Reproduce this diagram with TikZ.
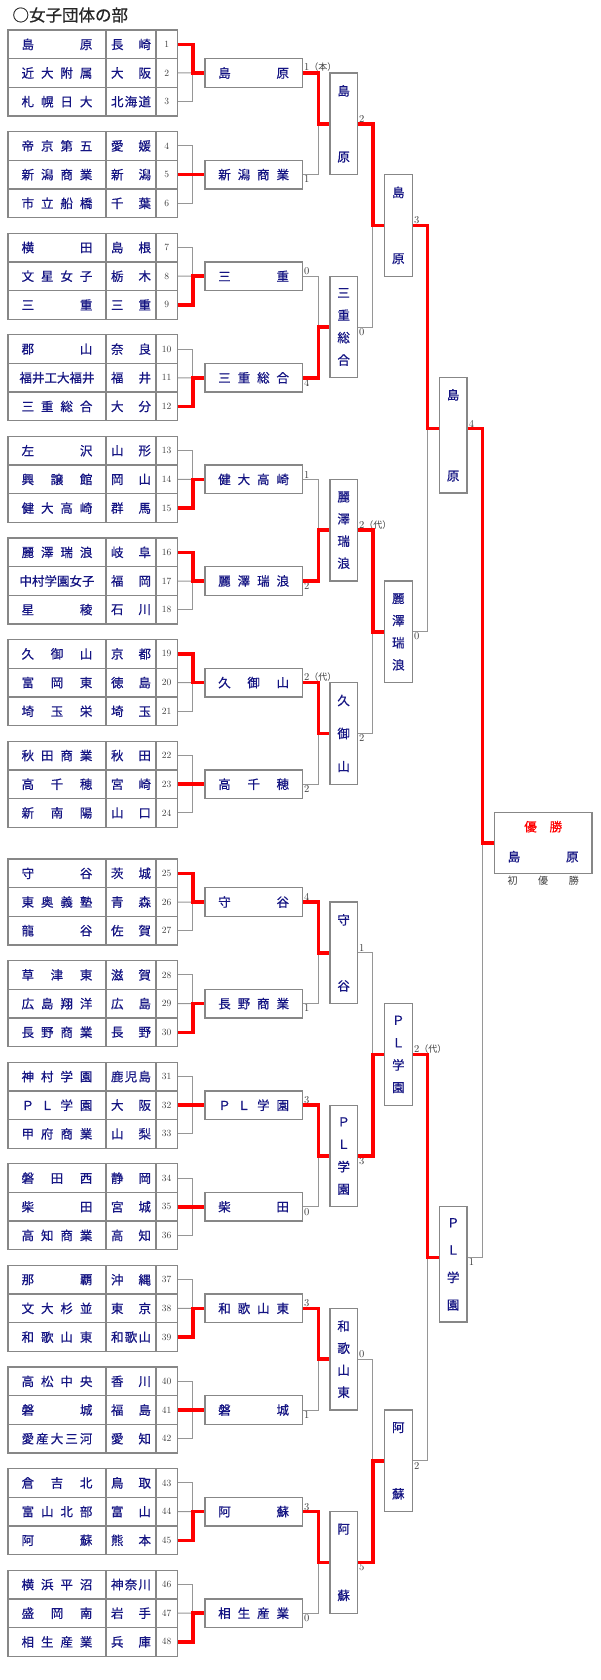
\documentclass[tikz,border=0pt]{standalone}
\usepackage{fontspec}
\usepackage{tikz}
\newfontfamily\jp{Noto Sans CJK JP}
\newfontfamily\jpb[FakeBold=0.6]{Noto Sans CJK JP}
\definecolor{navy}{RGB}{20,20,130}
\definecolor{frame}{RGB}{135,135,135}
\definecolor{lgray}{RGB}{150,150,150}
\definecolor{numgray}{RGB}{60,60,60}

\makeatletter
\def\spr@h#1#2{#1\ifx\relax#2\expandafter\@gobble\else\hfill\expandafter\@firstofone\fi{\spr@h#2}}
\def\spr@v#1#2{\hbox to 0pt{\hss#1\hss}\ifx\relax#2\expandafter\@gobble\else\vfill\expandafter\@firstofone\fi{\spr@v#2}}
\newcommand\hspr[2]{\makebox[#1][s]{\expandafter\spr@h#2\relax}}
\newcommand\vspr[2]{\vbox to #1{\expandafter\spr@v#2\relax}}
\makeatother
\newlength\tmw
\newcommand\tname[1]{\settowidth\tmw{#1}\ifdim\tmw>70.8pt #1\else\hspr{70.8pt}{#1}\fi}

\begin{document}
\begin{tikzpicture}[x=1pt, y=-1pt,
  jpfont/.style={font=\jpb\fontsize{12.5}{14}\selectfont},
  cell/.style={draw=frame, line width=1.3pt, minimum height=28.67pt, inner sep=0pt},
  team/.style={cell, jpfont, text=navy, minimum width=98pt},
  pref/.style={cell, jpfont, text=navy, minimum width=50pt},
  num/.style={cell, text=numgray, minimum width=21.3pt, font=\fontsize{9.5}{11}\selectfont},
  winbox/.style={cell, jpfont, text=navy, minimum width=97.3pt},
  colbox/.style={draw=frame, line width=1.3pt, inner sep=0pt, jpfont, text=navy, minimum height=101.6pt},
  score/.style={inner sep=1pt, text=numgray, font=\fontsize{10.5}{12}\selectfont},
  gline/.style={draw=lgray, line width=1pt},
  rline/.style={draw=red, line width=3.5pt}]
\useasboundingbox (0,0) rectangle (600,1680);
\node[anchor=west, text=black!85, font=\jpb\fontsize{16.5}{18}\selectfont] (title) at (9,15) {○女子団体の部};

% entry table
\foreach \n/\tm/\pf in {1/島原/長崎, 2/近大附属/大阪, 3/札幌日大/北海道,
  4/帝京第五/愛媛, 5/新潟商業/新潟, 6/市立船橋/千葉,
  7/横田/島根, 8/文星女子/栃木, 9/三重/三重,
  10/郡山/奈良, 11/福井工大福井/福井, 12/三重総合/大分,
  13/左沢/山形, 14/興譲館/岡山, 15/健大高崎/群馬,
  16/麗澤瑞浪/岐阜, 17/中村学園女子/福岡, 18/星稜/石川,
  19/久御山/京都, 20/富岡東/徳島, 21/埼玉栄/埼玉,
  22/秋田商業/秋田, 23/高千穂/宮崎, 24/新南陽/山口,
  25/守谷/茨城, 26/東奥義塾/青森, 27/龍谷/佐賀,
  28/草津東/滋賀, 29/広島翔洋/広島, 30/長野商業/長野,
  31/神村学園/鹿児島, 32/ＰＬ学園/大阪, 33/甲府商業/山梨,
  34/磐田西/静岡, 35/柴田/宮城, 36/高知商業/高知,
  37/那覇/沖縄, 38/文大杉並/東京, 39/和歌山東/和歌山,
  40/高松中央/香川, 41/磐城/福島, 42/愛産大三河/愛知,
  43/倉吉北/鳥取, 44/富山北部/富山, 45/阿蘇/熊本,
  46/横浜平沼/神奈川, 47/盛岡南/岩手, 48/相生産業/兵庫}{
  \pgfmathtruncatemacro\gi{(\n-1)/3}
  \pgfmathsetmacro\ty{30+\gi*101.6+(\gi>7)*16.2+(\n-1-3*\gi+0.5)*28.667}
  \node[team] (t\n) at (57,\ty) {\tname{\tm}};
  \node[pref] (p\n) at (131,\ty) {\hspr{40pt}{\pf}};
  \node[num] (n\n) at (166.65,\ty) {\n};
}

% first round
\foreach \g/\nm/\w/\sc in {1/島原/1/{1{\jp\fontsize{9}{10}\selectfont （本）}}, 2/新潟商業/5/1,
  3/三重/9/0, 4/三重総合/12/4, 5/健大高崎/15/1, 6/麗澤瑞浪/16/2,
  7/久御山/19/{2{\jp\fontsize{9}{10}\selectfont （代）}}, 8/高千穂/23/2,
  9/守谷/25/4, 10/長野商業/30/1, 11/ＰＬ学園/32/3, 12/柴田/35/0,
  13/和歌山東/39/3, 14/磐城/41/1, 15/阿蘇/45/3, 16/相生産業/48/0}{
  \pgfmathsetmacro\ty{73+(\g-1)*101.6+(\g>8)*16.2}
  \pgfmathtruncatemacro\na{3*\g-2}
  \pgfmathtruncatemacro\nb{3*\g-1}
  \pgfmathtruncatemacro\nc{3*\g}
  \node[winbox] (a\g) at (253.65,\ty) {\hspr{70.8pt}{\nm}};
  \draw[gline] (n\na.east) -- ++(15,0) |- (a\g.west);
  \draw[gline] (n\nc.east) -- ++(15,0) |- (a\g.west);
  \draw[gline] (n\nb.east) -- (a\g.west);
  \draw[rline] (n\w.east) -- ++(15,0) |- (a\g.west);
  \ifodd\g \def\anc{south west}\else \def\anc{north west}\fi
  \node[score, anchor=\anc] (sa\g) at (a\g.east) {\sc};
}

% second round
\foreach \k/\nm/\w/\sc in {1/島原/1/2, 2/三重総合/4/0,
  3/麗澤瑞浪/6/{2{\jp\fontsize{9}{10}\selectfont （代）}}, 4/久御山/7/2,
  5/守谷/9/1, 6/ＰＬ学園/11/3, 7/和歌山東/13/0, 8/阿蘇/15/5}{
  \pgfmathsetmacro\ty{73+(2*\k-1.5)*101.6+(\k>4)*16.2}
  \pgfmathtruncatemacro\ga{2*\k-1}
  \pgfmathtruncatemacro\gb{2*\k}
  \node[colbox, minimum width=27.3pt] (b\k) at (343.65,\ty) {\vspr{76.5pt}{\nm}};
  \draw[gline] (a\ga.east) -- ++(15.7,0) |- (b\k.west);
  \draw[gline] (a\gb.east) -- ++(15.7,0) |- (b\k.west);
  \draw[rline] (a\w.east) -- ++(15.7,0) |- (b\k.west);
  \ifodd\k \def\anc{south west}\else \def\anc{north west}\fi
  \node[score, anchor=\anc] (sb\k) at (b\k.east) {\sc};
}

% quarter finals
\foreach \m/\nm/\w/\sc in {1/島原/1/3, 2/麗澤瑞浪/3/0,
  3/ＰＬ学園/6/{2{\jp\fontsize{9}{10}\selectfont （代）}}, 4/阿蘇/8/2}{
  \pgfmathsetmacro\ty{73+(4*\m-2.5)*101.6+(\m>2)*16.2}
  \pgfmathtruncatemacro\ba{2*\m-1}
  \pgfmathtruncatemacro\bb{2*\m}
  \node[colbox, minimum width=28pt] (c\m) at (398.3,\ty) {\vspr{76.5pt}{\nm}};
  \draw[gline] (b\ba.east) -- ++(15,0) |- (c\m.west);
  \draw[gline] (b\bb.east) -- ++(15,0) |- (c\m.west);
  \draw[rline] (b\w.east) -- ++(15,0) |- (c\m.west);
  \ifodd\m \def\anc{south west}\else \def\anc{north west}\fi
  \node[score, anchor=\anc] (sc\m) at (c\m.east) {\sc};
}

% semi finals
\node[colbox, minimum width=27.7pt, minimum height=115.6pt] (d1) at (453.15,435.3) {\vspr{91.5pt}{島原}};
\node[colbox, minimum width=27.7pt, minimum height=115.6pt] (d2) at (453.15,1264.3) {\vspr{91.5pt}{ＰＬ学園}};
\draw[gline] (c1.east) -- ++(14.4,0) |- ([yshift=6.7pt]d1.west);
\draw[gline] (c2.east) -- ++(14.4,0) |- ([yshift=6.7pt]d1.west);
\draw[rline] (c1.east) -- ++(14.4,0) |- ([yshift=6.7pt]d1.west);
\draw[gline] (c3.east) -- ++(14.4,0) |- ([yshift=6.7pt]d2.west);
\draw[gline] (c4.east) -- ++(14.4,0) |- ([yshift=6.7pt]d2.west);
\draw[rline] (c3.east) -- ++(14.4,0) |- ([yshift=6.7pt]d2.west);
\node[score, anchor=south west] (sd1) at ([yshift=6.7pt]d1.east) {4};
\node[score, anchor=north west] (sd2) at ([yshift=6.7pt]d2.east) {1};

% final
\node[draw=frame, line width=1.3pt, minimum width=97.7pt, minimum height=60.6pt] (win) at (543.15,843.1) {};
\node[jpfont, text=red, inner sep=0pt] (winhd) at (543.15,826.7) {\hspr{37.8pt}{優勝}};
\node[jpfont, text=navy, inner sep=0pt] (winnm) at (543.15,856.7) {\hspr{70.8pt}{島原}};
\node[text=numgray, inner sep=0pt, font=\jp\fontsize{10}{11}\selectfont] (first) at (543.15,880.7) {\hspr{71.3pt}{初優勝}};
\draw[gline] ([yshift=6.7pt]d2.east) -- ++(15,0) |- (win.west);
\draw[rline] ([yshift=6.7pt]d1.east) -- ++(15,0) |- (win.west);
\end{tikzpicture}
\end{document}
